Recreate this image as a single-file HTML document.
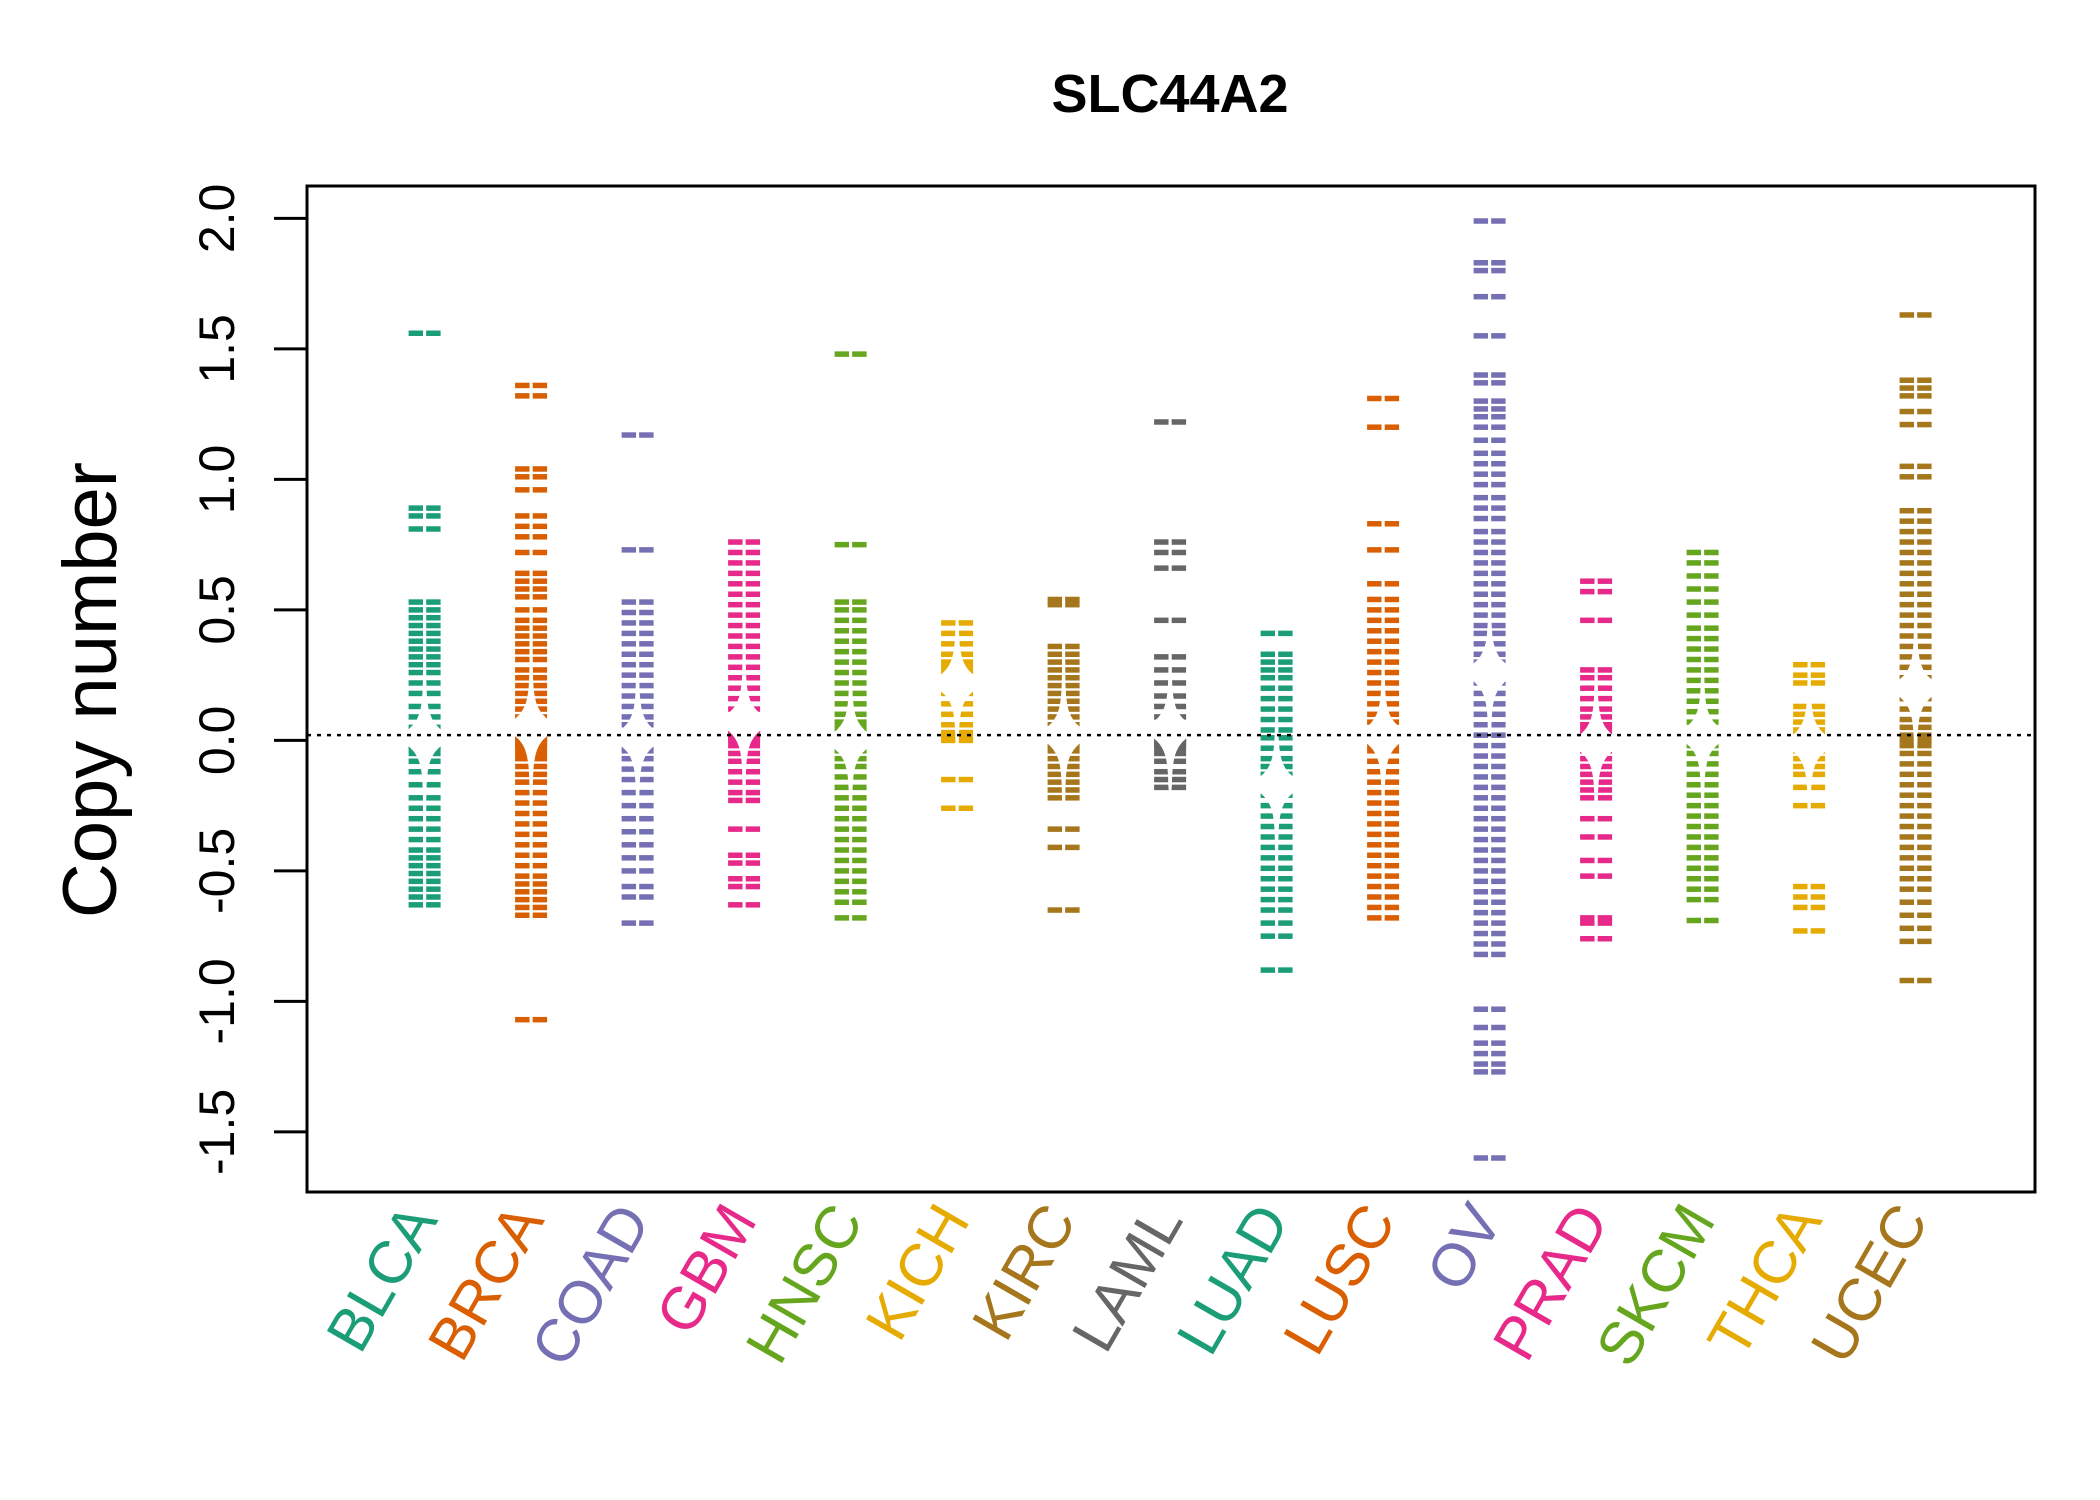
<!DOCTYPE html>
<html><head><meta charset="utf-8"><style>html,body{margin:0;padding:0;background:#fff}svg{display:block}</style></head>
<body>
<svg id="chart" width="2100" height="1500" viewBox="0 0 2100 1500" xmlns="http://www.w3.org/2000/svg" font-family="'Liberation Sans', sans-serif">
<rect width="2100" height="1500" fill="#fff"/>
<text x="1170" y="112" font-size="54" font-weight="bold" text-anchor="middle">SLC44A2</text>
<text transform="translate(116,690) rotate(-90)" font-size="76" text-anchor="middle">Copy number</text>
<g id="marks"></g>
<rect x="307" y="186" width="1728" height="1006" fill="none" stroke="#000" stroke-width="3"/>
<g id="axes"></g>
</svg>
<script>
const categories = ["BLCA","BRCA","COAD","GBM","HNSC","KICH","KIRC","LAML","LUAD","LUSC","OV","PRAD","SKCM","THCA","UCEC"];
const colors = ["#1B9E77","#D95F02","#7570B3","#E7298A","#66A61E","#E6AB02","#A6761D","#666666","#1B9E77","#D95F02","#7570B3","#E7298A","#66A61E","#E6AB02","#A6761D"];
const yTicks = [2.0,1.5,1.0,0.5,0.0,-0.5,-1.0,-1.5];
const yTickLabels = ["2.0","1.5","1.0","0.5","0.0","-0.5","-1.0","-1.5"];
const refLine = 0.02;
const vBLCA = [1.56,0.89,0.86,0.81,0.53,0.5,0.47,0.44,0.41,0.38,0.35,0.32,0.29,0.26,0.22,0.18,0.13,0.09,0.05,0.03,0.02,0.01,0.0,0.0,-0.01,-0.02,-0.03,-0.05,-0.08,-0.12,-0.17,-0.22,-0.26,-0.3,-0.34,-0.38,-0.42,-0.45,-0.48,-0.51,-0.54,-0.57,-0.6,-0.63];
const vBRCA = [1.36,1.32,1.04,1.01,0.96,0.86,0.82,0.78,0.72,0.64,0.61,0.58,0.55,0.5,0.46,0.43,0.4,0.37,0.34,0.31,0.27,0.24,0.21,0.18,0.15,0.12,0.09,0.07,0.05,0.04,0.03,0.02,0.01,0,0,-0.01,-0.02,-0.03,-0.05,-0.07,-0.1,-0.13,-0.16,-0.2,-0.24,-0.28,-0.32,-0.36,-0.4,-0.44,-0.48,-0.52,-0.55,-0.58,-0.61,-0.64,-0.67,-1.07];
const vCOAD = [1.17,0.73,0.53,0.49,0.45,0.41,0.37,0.33,0.29,0.25,0.21,0.17,0.13,0.09,0.06,0.03,0.02,0.01,0,0,-0.01,-0.02,-0.04,-0.07,-0.11,-0.15,-0.2,-0.25,-0.3,-0.35,-0.4,-0.45,-0.5,-0.56,-0.6,-0.7];
const vGBM = [0.76,0.72,0.68,0.64,0.6,0.56,0.52,0.48,0.44,0.4,0.36,0.32,0.28,0.24,0.2,0.16,0.12,0.09,0.07,0.05,0.04,0.03,0.02,0.01,0,-0.02,-0.05,-0.08,-0.12,-0.16,-0.2,-0.23,-0.34,-0.44,-0.47,-0.53,-0.56,-0.63];
const vHNSC = [1.48,0.75,0.53,0.5,0.46,0.42,0.38,0.34,0.3,0.26,0.22,0.18,0.14,0.1,0.07,0.05,0.03,0.02,0.01,0,0,-0.01,-0.02,-0.04,-0.07,-0.1,-0.14,-0.18,-0.22,-0.26,-0.3,-0.34,-0.38,-0.42,-0.46,-0.5,-0.54,-0.58,-0.62,-0.68];
const vKICH = [0.45,0.41,0.37,0.33,0.3,0.28,0.26,0.24,0.22,0.18,0.14,0.1,0.06,0.03,0.01,0,-0.15,-0.26];
const vKIRC = [0.54,0.52,0.36,0.33,0.3,0.27,0.24,0.21,0.18,0.15,0.12,0.09,0.06,0.04,0.02,0.01,0,0,-0.01,-0.02,-0.04,-0.07,-0.1,-0.13,-0.16,-0.19,-0.22,-0.34,-0.41,-0.65];
const vLAML = [1.22,0.76,0.72,0.66,0.46,0.32,0.27,0.22,0.17,0.13,0.09,0.06,0.04,0.02,0.01,0,0,-0.01,-0.02,-0.03,-0.05,-0.08,-0.12,-0.15,-0.18];
const vLUAD = [0.41,0.33,0.3,0.27,0.24,0.2,0.16,0.12,0.08,0.04,0.01,-0.03,-0.07,-0.1,-0.13,-0.17,-0.21,-0.25,-0.29,-0.33,-0.37,-0.41,-0.45,-0.49,-0.53,-0.57,-0.61,-0.65,-0.7,-0.75,-0.88];
const vLUSC = [1.31,1.2,0.83,0.73,0.6,0.54,0.5,0.46,0.42,0.38,0.34,0.3,0.26,0.22,0.18,0.14,0.1,0.07,0.04,0.02,0.01,0,-0.02,-0.04,-0.08,-0.12,-0.16,-0.2,-0.24,-0.28,-0.32,-0.36,-0.4,-0.44,-0.48,-0.52,-0.56,-0.6,-0.64,-0.68];
const vOV = [1.99,1.83,1.8,1.7,1.55,1.4,1.37,1.3,1.27,1.24,1.2,1.15,1.1,1.06,1.02,0.98,0.93,0.89,0.85,0.8,0.76,0.72,0.68,0.64,0.6,0.56,0.52,0.48,0.44,0.41,0.37,0.33,0.3,0.26,0.22,0.18,0.14,0.1,0.06,0.02,-0.02,-0.06,-0.1,-0.14,-0.18,-0.22,-0.26,-0.3,-0.34,-0.38,-0.42,-0.46,-0.5,-0.54,-0.58,-0.62,-0.66,-0.7,-0.74,-0.78,-0.82,-1.03,-1.1,-1.16,-1.2,-1.24,-1.27,-1.6];
const vPRAD = [0.61,0.57,0.46,0.27,0.24,0.2,0.16,0.12,0.09,0.06,0.04,0.02,0.01,0,-0.01,-0.02,-0.04,-0.07,-0.1,-0.13,-0.16,-0.19,-0.22,-0.3,-0.37,-0.46,-0.52,-0.68,-0.7,-0.76];
const vSKCM = [0.72,0.68,0.63,0.58,0.53,0.48,0.43,0.39,0.35,0.31,0.27,0.23,0.19,0.15,0.11,0.07,0.04,0.02,0,-0.02,-0.05,-0.09,-0.13,-0.17,-0.21,-0.25,-0.29,-0.33,-0.37,-0.41,-0.45,-0.49,-0.53,-0.57,-0.61,-0.69];
const vTHCA = [0.29,0.25,0.22,0.13,0.1,0.07,0.04,0.02,0.01,0,0,-0.01,-0.02,-0.04,-0.07,-0.1,-0.13,-0.18,-0.25,-0.56,-0.6,-0.64,-0.73];
const vUCEC = [1.63,1.38,1.35,1.32,1.26,1.21,1.05,1.01,0.88,0.84,0.8,0.76,0.72,0.68,0.64,0.6,0.56,0.52,0.48,0.44,0.4,0.36,0.32,0.28,0.24,0.2,0.16,0.12,0.08,0.05,0.02,0,-0.02,-0.05,-0.09,-0.13,-0.17,-0.21,-0.25,-0.29,-0.33,-0.37,-0.41,-0.45,-0.49,-0.53,-0.57,-0.62,-0.67,-0.72,-0.77,-0.92];
const seriesValues = [vBLCA,vBRCA,vCOAD,vGBM,vHNSC,vKICH,vKIRC,vLAML,vLUAD,vLUSC,vOV,vPRAD,vSKCM,vTHCA,vUCEC];

const NS = "http://www.w3.org/2000/svg";
const yScale = v => 740.4 - v * 261;
const xScale = i => 424.6 + i * 106.5;
const marks = document.getElementById('marks');
const axes = document.getElementById('axes');
function mk(tag, attrs, parent){const e=document.createElementNS(NS,tag);for(const k in attrs)e.setAttribute(k,attrs[k]);parent.appendChild(e);return e;}

seriesValues.forEach((vals, i) => {
  const cx = xScale(i), col = colors[i];
  const g = mk('g', {}, marks);
  
  
  vals.forEach(v => {
    const y = yScale(v);
    const l1 = mk('line', {x1:cx-16,x2:cx-1.5,y1:y,y2:y,stroke:col,'stroke-width':5.5}, g);
    
    
    const l2 = mk('line', {x1:cx+1.5,x2:cx+16,y1:y,y2:y,stroke:col,'stroke-width':5.5}, g);
    
    
  });
  const sorted = vals.slice().sort((a,b)=>a-b);
  const med = sorted[Math.floor(sorted.length/2)];
  const mn = sorted[0], mx = sorted[sorted.length-1];
  const ds = [];
  for (let k = 0; k <= 120; k++) { const t = mn + (mx - mn) * k / 120; ds.push(t); }
  const w = t => 1.5 + 30 * Math.exp(-Math.abs(t - med) / 0.045);
  const L = ds.map(t => [cx - w(t), yScale(t)]);
  const R = ds.map(t => [cx + w(t), yScale(t)]).reverse();
  const poly = mk('polygon', {points: L.concat(R).map(p => p[0].toFixed(1)+','+p[1].toFixed(1)).join(' '), fill:'#fff', stroke:'none'}, g);
  
  
  const lab = mk('text', {transform:`translate(${cx+14},1220) rotate(-60)`, 'font-size':60, fill:col, 'text-anchor':'end'}, axes);
  lab.textContent = categories[i];
  
  
});

const ref = mk('line', {x1:307,x2:2035,y1:yScale(refLine),y2:yScale(refLine),stroke:'#000','stroke-width':2.5,'stroke-dasharray':'4,6'}, marks);



yTicks.forEach((t, k) => {
  const y = yScale(t);
  const tl = mk('line', {x1:274,x2:307,y1:y,y2:y,stroke:'#000','stroke-width':3}, axes);
  
  
  const tx = mk('text', {transform:`translate(234,${y}) rotate(-90)`, 'font-size':50, 'text-anchor':'middle'}, axes);
  tx.textContent = yTickLabels[k];
  
  
});
</script>
</body></html>
